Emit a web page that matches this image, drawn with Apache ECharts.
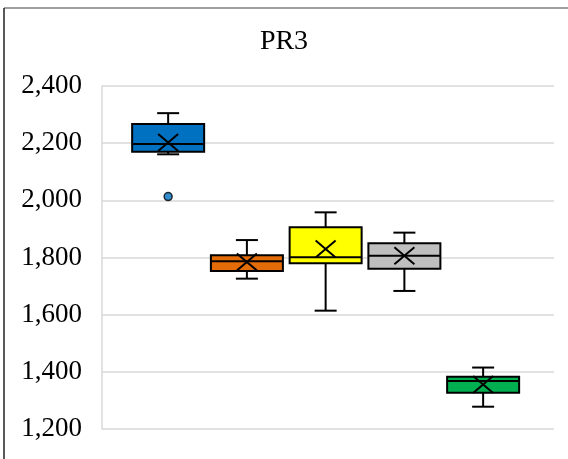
<!DOCTYPE html>
<html>
<head>
<meta charset="utf-8">
<script src="https://cdn.jsdelivr.net/npm/echarts@6/dist/echarts.min.js"></script>
<style>html,body{margin:0;padding:0;background:#fff;}#c{width:568px;height:459px;}</style>
</head>
<body>
<div id="c"></div>
<script>
var categories = ['S1', 'S2', 'S3', 'S4', 'S5'];
var colors = ['#0070C0', '#E36C09', '#FFFF00', '#BFBFBF', '#00B050'];
var mins    = [2161, 1726, 1614, 1683, 1278];
var q1s     = [2170, 1753, 1780, 1761, 1327];
var medians = [2197, 1787, 1801, 1806, 1368];
var q3s     = [2267, 1808, 1906, 1850, 1383];
var maxs    = [2305, 1861, 1958, 1887, 1415];
var means   = [2202, 1784, 1830, 1806, 1356];
var outlierCat = [0];
var outlierVal = [2013];
var yTicks = [1200, 1400, 1600, 1800, 2000, 2200, 2400];

var boxData = categories.map(function (c, i) {
  return [i, mins[i], q1s[i], medians[i], q3s[i], maxs[i], means[i]];
});
var outData = outlierCat.map(function (c, i) { return [c, outlierVal[i]]; });

var chart = echarts.init(document.getElementById('c'));
var BOXW = 72, CAPW = 22, XW = 10, XH = 8.5;

function renderItem(params, api) {
  var idx = api.value(0);
  var pMin = api.coord([idx, api.value(1)]);
  var pQ1 = api.coord([idx, api.value(2)]);
  var pMed = api.coord([idx, api.value(3)]);
  var pQ3 = api.coord([idx, api.value(4)]);
  var pMax = api.coord([idx, api.value(5)]);
  var pMean = api.coord([idx, api.value(6)]);
  var cx = pMed[0];
  var ls = { stroke: '#000', lineWidth: 2 };
  return {
    type: 'group',
    children: [
      { type: 'line', shape: { x1: cx, y1: pMax[1], x2: cx, y2: pQ3[1] }, style: ls },
      { type: 'line', shape: { x1: cx - CAPW / 2, y1: pMax[1], x2: cx + CAPW / 2, y2: pMax[1] }, style: ls },
      { type: 'line', shape: { x1: cx, y1: pQ1[1], x2: cx, y2: pMin[1] }, style: ls },
      { type: 'line', shape: { x1: cx - CAPW / 2, y1: pMin[1], x2: cx + CAPW / 2, y2: pMin[1] }, style: ls },
      { type: 'rect', shape: { x: cx - BOXW / 2, y: pQ3[1], width: BOXW, height: pQ1[1] - pQ3[1] },
        style: { fill: colors[idx], stroke: '#000', lineWidth: 2 } },
      { type: 'line', shape: { x1: cx - BOXW / 2, y1: pMed[1], x2: cx + BOXW / 2, y2: pMed[1] }, style: ls },
      { type: 'line', shape: { x1: cx - XW, y1: pMean[1] - XH, x2: cx + XW, y2: pMean[1] + XH }, style: ls },
      { type: 'line', shape: { x1: cx - XW, y1: pMean[1] + XH, x2: cx + XW, y2: pMean[1] - XH }, style: ls }
    ]
  };
}

chart.setOption({
  animation: false,
  backgroundColor: '#fff',
  title: {
    text: 'PR3', left: 'center', top: 23,
    textStyle: { fontFamily: 'Liberation Serif', fontSize: 28, fontWeight: 'normal', color: '#000' }
  },
  grid: { left: 102, right: 14, top: 86, bottom: 30 },
  xAxis: {
    type: 'value', min: -0.84, max: 4.9,
    axisLine: { show: false }, axisTick: { show: false }, axisLabel: { show: false }, splitLine: { show: false }
  },
  yAxis: {
    type: 'value', min: 1200, max: 2400, interval: 200,
    axisLine: { show: true, onZero: false, lineStyle: { color: '#d9d9d9', width: 1.5 } },
    axisTick: { show: false },
    splitLine: { lineStyle: { color: '#d9d9d9', width: 1.5 } },
    axisLabel: {
      margin: 20, fontFamily: 'Liberation Serif', fontSize: 27, color: '#000',
      formatter: function (v) { return v.toLocaleString('en-US'); }
    }
  },
  graphic: [
    { type: 'line', shape: { x1: 4, y1: 8, x2: 568, y2: 8 }, style: { stroke: '#7f7f7f', lineWidth: 1.5 } },
    { type: 'line', shape: { x1: 4, y1: 8, x2: 4, y2: 459 }, style: { stroke: '#222', lineWidth: 1.5 } }
  ],
  series: [
    { type: 'custom', renderItem: renderItem, data: boxData, encode: { x: 0, y: [1, 2, 3, 4, 5, 6] } },
    { type: 'scatter', data: outData, symbol: 'circle', symbolSize: 8,
      itemStyle: { color: '#0070C0', borderColor: '#000', borderWidth: 1.5 } }
  ]
});
</script>
</body>
</html>
